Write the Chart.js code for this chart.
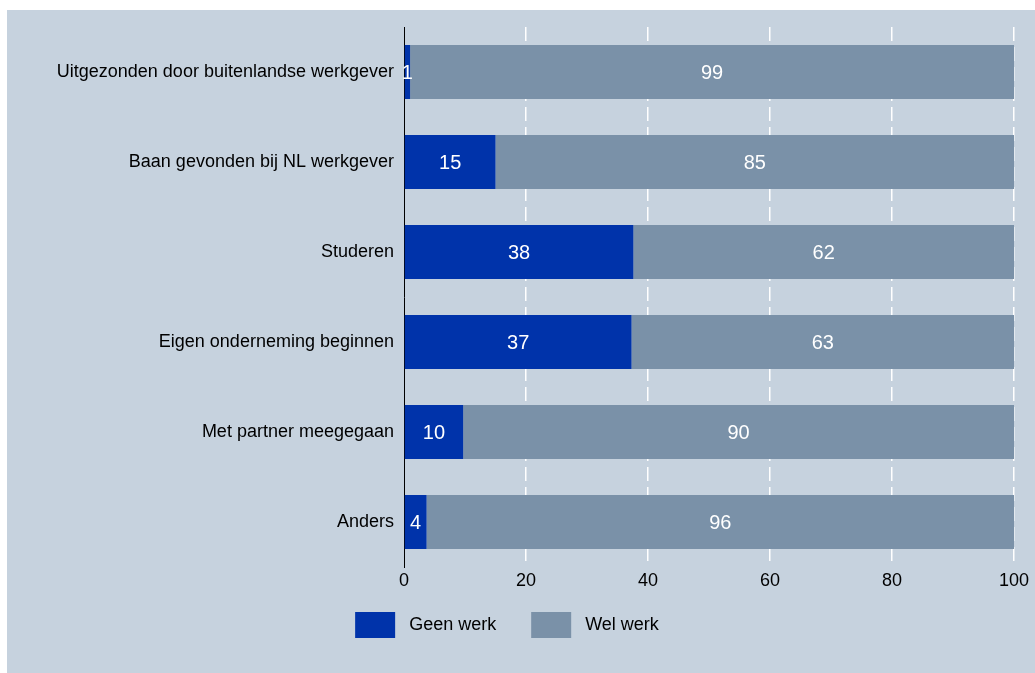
<!DOCTYPE html>
<html>
<head>
<meta charset="utf-8">
<script src="https://cdn.jsdelivr.net/npm/chart.js@4/dist/chart.umd.min.js"></script>
<style>
  html, body { margin: 0; padding: 0; background: #fff; }
  #wrap { width: 1035px; height: 673px; }
</style>
</head>
<body>
<div id="wrap"><canvas id="redenChart"></canvas></div>
<script>
// reden van vertrek
const categories = [
    'Uitgezonden door buitenlandse werkgever',
    'Baan gevonden bij NL werkgever',
    'Studeren',
    'Eigen onderneming beginnen',
    'Met partner meegegaan',
    'Anders'
];
const geenWerk = [1, 15, 37.6, 37.3, 9.7, 3.7];
const welWerk = [99, 85, 62.4, 62.7, 90.3, 96.3];
const xTicks = [0, 20, 40, 60, 80, 100];

const FONT = 'Arial, "Liberation Sans", sans-serif';

// achtergrondvlak
const panelPlugin = {
    id: 'panel',
    beforeDraw(chart) {
        const c = chart.ctx;
        c.save();
        c.fillStyle = '#c6d2de';
        c.fillRect(7, 10, chart.width - 7, chart.height - 10);
        c.restore();
    }
};

// waarden in de balken
const labelPlugin = {
    id: 'barLabels',
    afterDatasetsDraw(chart) {
        const c = chart.ctx;
        c.save();
        c.fillStyle = '#ffffff';
        c.font = '20px ' + FONT;
        c.textAlign = 'center';
        c.textBaseline = 'middle';
        chart.data.datasets.forEach(function (ds, i) {
            chart.getDatasetMeta(i).data.forEach(function (bar, j) {
                const cx = (bar.x + bar.base) / 2;
                c.fillText(String(Math.round(ds.data[j])), cx, bar.y + 1);
            });
        });
        c.restore();
    }
};

new Chart(document.getElementById('redenChart'), {
    type: 'bar',
    data: {
        labels: categories,
        datasets: [
            { label: 'Geen werk', data: geenWerk, backgroundColor: '#0033aa' },
            { label: 'Wel werk', data: welWerk, backgroundColor: '#7a91a8' }
        ]
    },
    options: {
        indexAxis: 'y',
        responsive: true,
        maintainAspectRatio: false,
        animation: false,
        datasets: { bar: { barPercentage: 0.6, categoryPercentage: 1 } },
        layout: { padding: { left: 0, right: 21, top: 27, bottom: 25 } },
        scales: {
            x: {
                stacked: true,
                min: 0,
                max: 100,
                afterBuildTicks: function (scale) {
                    scale.ticks = xTicks.map(function (v) { return { value: v }; });
                },
                afterFit: function (scale) { scale.height = 25; },
                border: { display: false, dash: [14, 6] },
                grid: {
                    drawTicks: false,
                    color: function (ctx) { return ctx.tick && ctx.tick.value === 0 ? 'rgba(0,0,0,0)' : '#ffffff'; },
                    lineWidth: 1.5
                },
                ticks: { color: '#000', padding: 3, font: { family: FONT, size: 18 } }
            },
            y: {
                stacked: true,
                afterFit: function (scale) { scale.width = 404; },
                border: { display: true, color: '#000', width: 1 },
                grid: { display: false, drawTicks: false },
                ticks: { color: '#000', padding: 10, font: { family: FONT, size: 18 } }
            }
        },
        plugins: {
            legend: {
                position: 'bottom',
                labels: {
                    boxWidth: 40,
                    boxHeight: 26,
                    padding: 20,
                    color: '#000',
                    font: { family: FONT, size: 18 },
                    generateLabels: function (chart) {
                        const items = Chart.defaults.plugins.legend.labels.generateLabels(chart);
                        items[0].text = ' ' + items[0].text + '   ';
                        items[1].text = ' ' + items[1].text;
                        return items;
                    }
                }
            },
            tooltip: { enabled: false }
        }
    },
    plugins: [panelPlugin, labelPlugin]
});
</script>
</body>
</html>
